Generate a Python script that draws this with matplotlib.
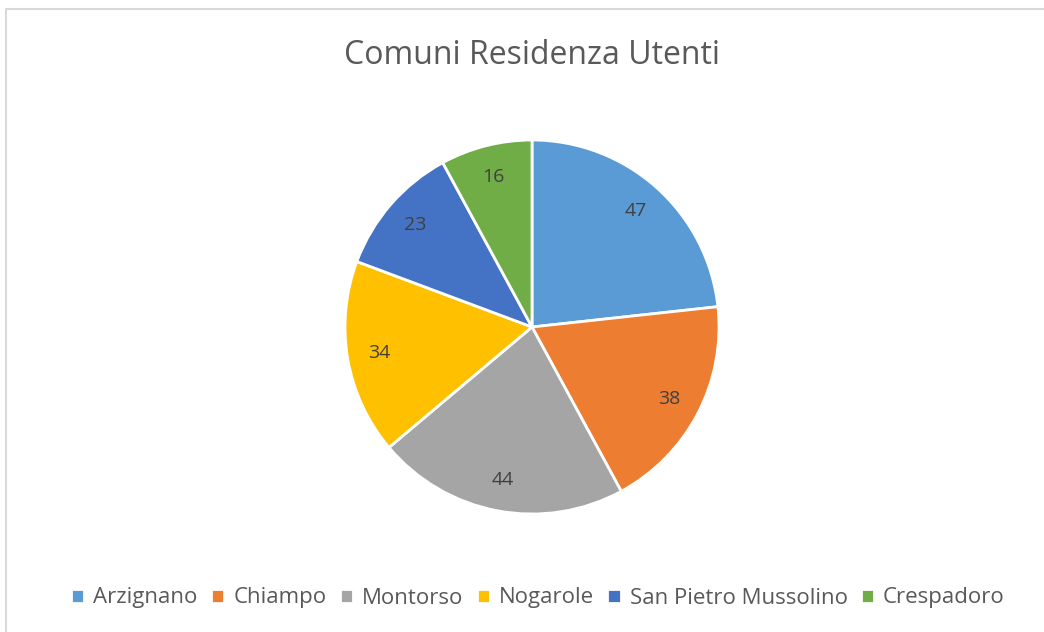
import matplotlib.pyplot as plt
from matplotlib.patches import Rectangle

plt.rcParams['font.family'] = ['Open Sans', 'DejaVu Sans']

comuni = ["Arzignano", "Chiampo", "Montorso", "Nogarole",
          "San Pietro Mussolino", "Crespadoro"]
utenti = [47, 38, 44, 34, 23, 16]
colori = ["#5B9BD5", "#ED7D31", "#A5A5A5", "#FFC000", "#4472C4", "#70AD47"]

TESTO = "#595959"

fig = plt.figure(figsize=(10.44, 6.32), dpi=100)

# cornice del grafico
fig.patches.append(Rectangle((6 / 1044, -0.05), 1.1, (632 - 9) / 632 + 0.05,
                             transform=fig.transFigure, fill=False,
                             edgecolor="#D9D9D9", linewidth=1.5))

ax = fig.add_axes([(532 - 187) / 1044, (632 - 327 - 187) / 632,
                   374 / 1044, 374 / 632])

wedges, texts = ax.pie(
    utenti,
    colors=colori,
    startangle=90,
    counterclock=False,
    labels=[str(v) for v in utenti],
    labeldistance=0.83,
    wedgeprops=dict(edgecolor="white", linewidth=2),
    textprops=dict(color="#404040", fontsize=14, ha="center", va="center"),
)
for t in texts:
    t.set_horizontalalignment("center")
ax.set_xlim(-1, 1)
ax.set_ylim(-1, 1)
ax.set_aspect("equal")

fig.text(532 / 1044, 1 - 55 / 632, "Comuni Residenza Utenti",
         ha="center", va="center", fontsize=23, color=TESTO)

fig.legend(wedges, comuni, loc="center", bbox_to_anchor=(538 / 1044, 1 - 598 / 632),
           ncol=6, frameon=False, fontsize=16, handlelength=0.6, handleheight=0.6,
           handletextpad=0.4, columnspacing=0.6, labelcolor=TESTO)

plt.savefig("out.png", dpi=100)
plt.close()
